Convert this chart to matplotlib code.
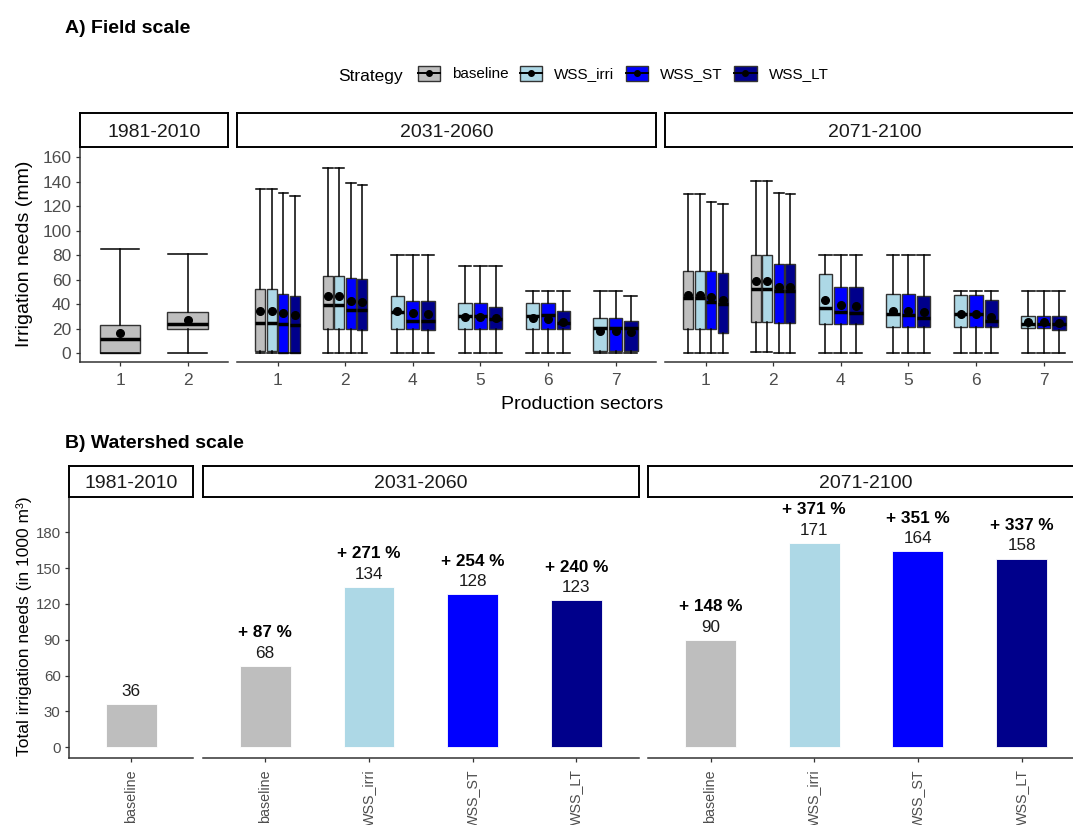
import matplotlib
matplotlib.use("Agg")
import matplotlib.pyplot as plt
from matplotlib.patches import Rectangle
from matplotlib.lines import Line2D
from matplotlib.legend_handler import HandlerBase

plt.rcParams['font.family'] = ['Liberation Sans', 'DejaVu Sans']

# ---------------- data ----------------
strategies = ["baseline", "WSS_irri", "WSS_ST", "WSS_LT"]
strategy_colors = ["#BEBEBE", "#ADD8E6", "#0000FF", "#00008B"]
periods = ["1981-2010", "2031-2060", "2071-2100"]
sectors_ref = ["1", "2"]
sectors_fut = ["1", "2", "4", "5", "6", "7"]

# field scale box statistics per sector: (whisker low, Q1, median, Q3, whisker high, mean)
field_1981 = {
    "baseline": [(0, 0, 11.4, 23, 85, 16.3), (0, 20, 24, 33.7, 81, 27)],
}
field_2031 = {
    "baseline": [(0, 2, 25, 52.7, 134, 34.5), (0, 20, 39.4, 62.8, 151, 46.5),
                 None, None, None, None],
    "WSS_irri": [(0, 2, 25, 52.7, 134, 34.5), (0, 20, 39.4, 62.8, 151, 46.5),
                 (0, 20, 33.7, 47, 80, 34.8), (0, 20, 30.7, 40.8, 71, 29.4),
                 (0, 20, 30.7, 40.8, 51, 28.5), (0, 2, 21, 28.5, 51, 18.5)],
    "WSS_ST": [(0, 0, 23.7, 48.7, 130.6, 32.6), (0, 20, 35, 61.7, 139, 42.7),
               (0, 20, 26.4, 42.7, 80, 32.6), (0, 20, 30.7, 40.8, 71, 29.4),
               (0, 20, 31, 40.8, 51, 28), (0, 2, 21, 28.5, 51, 18.5)],
    "WSS_LT": [(0, 0, 22.8, 46.5, 128.7, 31.5), (0, 19, 35, 60.6, 137.4, 41.6),
               (0, 19, 26, 42.7, 80, 31.8), (0, 20, 28, 38, 71, 28.5),
               (0, 20, 25, 34.8, 51, 25.8), (0, 2, 21, 26.6, 47, 17.7)],
}
field_2071 = {
    "baseline": [(0, 20, 45, 67, 130, 47.6), (1.3, 25.5, 52.7, 80, 141, 59),
                 None, None, None, None],
    "WSS_irri": [(0, 20, 45, 67, 130, 47.6), (1.3, 25.5, 52.7, 80, 141, 59),
                 (0, 23.7, 36.7, 64.7, 80, 43.8), (0, 21.2, 32.1, 48.7, 80, 34.5),
                 (0, 21.2, 32, 47.9, 51, 32), (0, 20.4, 23.9, 30.7, 51, 25.8)],
    "WSS_ST": [(0, 20, 41.6, 67, 123.8, 45.7), (0, 24.5, 51.1, 72.9, 131, 54.4),
               (0, 23.7, 33.5, 53.9, 80, 39.4), (0, 21.2, 31.5, 48.7, 80, 34.5),
               (0, 21.2, 32, 47.9, 51, 32), (0, 20.4, 23.9, 30.7, 51, 25.8)],
    "WSS_LT": [(0, 16.3, 40, 65.8, 121.9, 43.8), (0, 24.5, 51, 72.9, 130, 54.4),
               (0, 23.7, 32.6, 53.9, 80, 38.6), (0, 21.2, 28.5, 46.8, 80, 33.5),
               (0, 21.2, 26.6, 43.5, 51, 29.6), (0, 19, 23.9, 30.7, 51, 25)],
}

# watershed scale totals (1000 m3) and change vs 1981-2010 baseline (%)
ws_1981_strategies = ["baseline"]
ws_1981_values = [36]
ws_2031_values = [68, 134, 128, 123]
ws_2031_change = [87, 271, 254, 240]
ws_2071_values = [90, 171, 164, 158]
ws_2071_change = [148, 371, 351, 337]

# ---------------- figure ----------------
W, H = 1073, 825
fig = plt.figure(figsize=(W / 100, H / 100), dpi=100)
AX_COL = "#333333"
TICK_COL = "#4D4D4D"


def add_ax(x0, y0, x1, y1):
    return fig.add_axes([x0 / W, 1 - y1 / H, (x1 - x0) / W, (y1 - y0) / H])


def strip(x0, y0, x1, y1, text):
    a = add_ax(x0, y0, x1, y1)
    a.set_xticks([]); a.set_yticks([])
    for s in a.spines.values():
        s.set_linewidth(1.4); s.set_color("black")
    a.text(0.5, 0.42, text, ha="center", va="center", fontsize=14,
           color="#1A1A1A", transform=a.transAxes)


def style_axis(a, show_y, tick_size):
    a.spines["top"].set_visible(False)
    a.spines["right"].set_visible(False)
    a.spines["bottom"].set_color(AX_COL); a.spines["bottom"].set_linewidth(1.1)
    a.spines["left"].set_color(AX_COL); a.spines["left"].set_linewidth(1.1)
    a.tick_params(colors=AX_COL, labelcolor=TICK_COL, length=3, width=0.9,
                  labelsize=tick_size, pad=3)
    if not show_y:
        a.spines["left"].set_visible(False)
        a.tick_params(axis="y", left=False, labelleft=False)


# ---------- A) field scale ----------
top_y0, top_y1 = 146.7, 361.7
top_panels = [(79.5, 228.3, field_1981, sectors_ref, periods[0]),
              (237.0, 656.1, field_2031, sectors_fut, periods[1]),
              (665.0, 1084.1, field_2071, sectors_fut, periods[2])]
ylo_top = -(361.7 - 353.3) / 1.225
yhi_top = 160 + (157.3 - 146.7) / 1.225
for k, (x0, x1, data, sectors, per) in enumerate(top_panels):
    a = add_ax(x0, top_y0, x1, top_y1)
    strip(x0, 113, x1, top_y0, per)
    group_w = 0.68
    for j in range(len(sectors)):
        present = [s for s in strategies if s in data and data[s][j] is not None]
        n = len(present)
        slot = group_w / n
        for i, s in enumerate(present):
            lo, q1, med, q3, hi, mean = data[s][j]
            pos = (j + 1) - group_w / 2 + slot * (i + 0.5)
            wd = slot * 0.88
            st = [dict(med=med, q1=q1, q3=q3, whislo=lo, whishi=hi, mean=mean, fliers=[])]
            col = strategy_colors[strategies.index(s)]
            a.bxp(st, positions=[pos], widths=[wd], capwidths=[wd * 0.95],
                  patch_artist=True, showmeans=True, showfliers=False, manage_ticks=False,
                  boxprops=dict(facecolor=col, edgecolor="#333333", linewidth=1.0),
                  whiskerprops=dict(color="black", linewidth=1.1),
                  capprops=dict(color="black", linewidth=1.1),
                  medianprops=dict(color="black", linewidth=2.5, solid_capstyle="butt"),
                  meanprops=dict(marker="o", markerfacecolor="black",
                                 markeredgecolor="black", markersize=5.5, zorder=5))
    a.set_xlim(0.4, len(sectors) + 0.6)
    a.set_ylim(ylo_top, yhi_top)
    a.set_xticks(range(1, len(sectors) + 1))
    a.set_xticklabels(sectors)
    a.set_yticks(range(0, 161, 20))
    style_axis(a, k == 0, 12.5)
    a.tick_params(axis="x", pad=5)

fig.text(25 / W, 1 - 254 / H, "Irrigation needs (mm)", rotation=90, ha="center",
         va="center", fontsize=14)
fig.text(582 / W, 1 - 404 / H, "Production sectors", ha="center", va="center", fontsize=14)
fig.text(65 / W, 1 - 33 / H, "A) Field scale", fontsize=14, fontweight="bold",
         ha="left", va="baseline")

# legend
class BoxHandler(HandlerBase):
    def create_artists(self, legend, orig_handle, xdescent, ydescent, width, height,
                       fontsize, trans):
        fc = orig_handle.get_facecolor()
        x0, y0 = -xdescent, -ydescent
        r = Rectangle((x0, y0), width, height, facecolor=fc, edgecolor="#333333",
                      lw=1.0, transform=trans)
        l = Line2D([x0, x0 + width], [y0 + height / 2] * 2, color="black", lw=1.4,
                   transform=trans)
        d = Line2D([x0 + width / 2], [y0 + height / 2], marker="o", color="black",
                   markersize=4, transform=trans)
        return [r, l, d]


handles = [Rectangle((0, 0), 1, 1, facecolor=c) for c in strategy_colors]
fig.text(338 / W, 1 - 80.5 / H, "Strategy", fontsize=12.5, ha="left", va="baseline")
fig.legend(handles, strategies, handler_map={Rectangle: BoxHandler()}, ncol=4,
           loc="center left", bbox_to_anchor=(417.5 / W, 1 - 73.5 / H), frameon=False,
           fontsize=11, handlelength=1.45, handleheight=1.15, handletextpad=0.8,
           columnspacing=0.75, borderpad=0, borderaxespad=0)

# ---------- B) watershed scale ----------
bot_y0, bot_y1 = 497.0, 758.3
px_per = 1.1944
ylo_bot = -(758.3 - 747.3) / px_per
yhi_bot = 180 + (532.3 - 497.0) / px_per
bot_panels = [(69.0, 193.4, ws_1981_strategies, ws_1981_values, None, periods[0]),
              (203.0, 638.5, strategies, ws_2031_values, ws_2031_change, periods[1]),
              (648.3, 1083.8, strategies, ws_2071_values, ws_2071_change, periods[2])]
for k, (x0, x1, cats, vals, chg, per) in enumerate(bot_panels):
    a = add_ax(x0, bot_y0, x1, bot_y1)
    strip(x0, 465.5, x1, bot_y0, per)
    xs = list(range(1, len(cats) + 1))
    cols = [strategy_colors[strategies.index(c)] for c in cats]
    a.bar(xs, vals, width=0.49, color=cols, edgecolor="white", linewidth=0.6)
    for i, v in enumerate(vals):
        a.annotate(str(v), (xs[i], v), xytext=(0, 9.2), textcoords="offset points",
                   ha="center", va="center", fontsize=12.3, color="#1A1A1A")
        if chg is not None:
            a.annotate("+ %d %%" % chg[i], (xs[i], v), xytext=(0, 24), textcoords="offset points",
                       ha="center", va="center", fontsize=12.3, fontweight="bold",
                       color="black")
    a.set_xlim(0.4, len(cats) + 0.6)
    a.set_ylim(ylo_bot, yhi_bot)
    a.set_xticks(xs)
    a.set_xticklabels(cats, rotation=90, va="top", ha="center")
    a.set_yticks(range(0, 181, 30))
    style_axis(a, k == 0, 10.8)
    a.tick_params(axis="x", labelsize=10.3, pad=5)

fig.text(24 / W, 1 - 626 / H, "Total irrigation needs (in 1000 m³)", rotation=90,
         ha="center", va="center", fontsize=12.5)
fig.text(65 / W, 1 - 448 / H, "B) Watershed scale", fontsize=14, fontweight="bold",
         ha="left", va="baseline")

fig.savefig("out.png", dpi=100)
